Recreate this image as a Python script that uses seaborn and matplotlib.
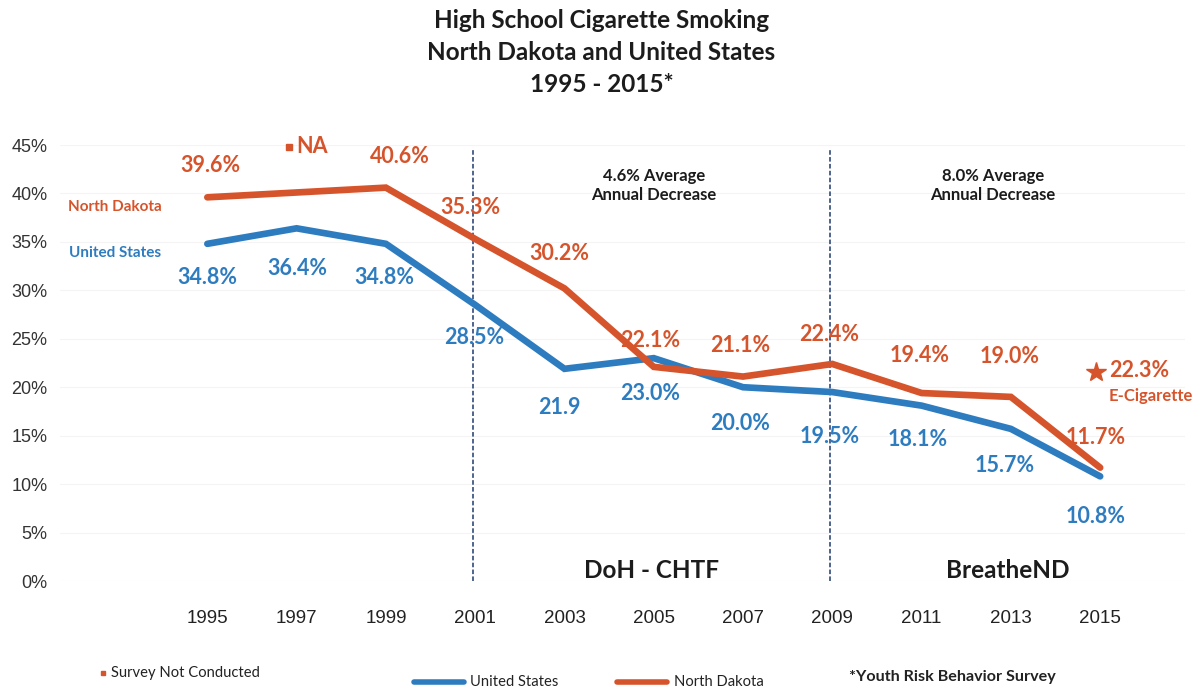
import numpy as np
import pandas as pd
import seaborn as sns
import matplotlib.pyplot as plt
from matplotlib.lines import Line2D

sns.set_theme(style="white")
plt.rcParams['font.family'] = ['Lato', 'DejaVu Sans']

# Survey years and smoking rates (%)
years = [1995, 1997, 1999, 2001, 2003, 2005, 2007, 2009, 2011, 2013, 2015]
us_rates = [34.8, 36.4, 34.8, 28.5, 21.9, 23.0, 20.0, 19.5, 18.1, 15.7, 10.8]
nd_rates = [39.6, np.nan, 40.6, 35.3, 30.2, 22.1, 21.1, 22.4, 19.4, 19.0, 11.7]
ecig_2015 = 22.3
yticks = [0, 5, 10, 15, 20, 25, 30, 35, 40, 45]

# label offsets in pixels (dx, dy) for each value label
nd_offsets = [(3, 32), None, (14, 31), (-5, 31), (-5, 35), (-4, 26), (-3, 31),
              (-3, 29), (-2, 38), (-1, 40), (-5, 30)]
us_offsets = [(0, -34), (1, -40), (-2, -34), (-1, -33), (-5, -39), (-4, -35),
              (-3, -36), (-3, -44), (-4, -34), (-6, -37), (-5, -40)]

ND_COLOR = '#D6542B'
US_COLOR = '#2E7CC0'
DARK = '#1c1c1c'
W, H = 1203, 688

idx = np.arange(len(years))
df = pd.DataFrame({
    'pos': np.concatenate([idx, idx]),
    'rate': us_rates + nd_rates,
    'state': ['United States'] * len(years) + ['North Dakota'] * len(years),
}).dropna()

fig = plt.figure(figsize=(W / 100, H / 100), dpi=100)
ax = fig.add_axes([60 / W, 107 / H, 1125 / W, 436 / H])

sns.lineplot(data=df, x='pos', y='rate', hue='state',
             palette={'United States': US_COLOR, 'North Dakota': ND_COLOR},
             linewidth=4.8, legend=False, ax=ax, sort=True,
             solid_capstyle='round', solid_joinstyle='miter')

ax.set_xlim(-1.65, 10.95)
ax.set_ylim(0, 45)
ax.set_yticks(yticks)
ax.set_yticklabels([f'{t}%' for t in yticks], family='Liberation Sans',
                   fontsize=13, color='#333333')
ax.set_xticks(idx)
ax.set_xticklabels([str(y) for y in years], family='Liberation Sans',
                   fontsize=13.5, color='#222222')
ax.tick_params(axis='y', length=0, pad=9)
ax.tick_params(axis='x', length=0, pad=21)
ax.set_xlabel('')
ax.set_ylabel('')
for s in ax.spines.values():
    s.set_visible(False)
ax.grid(axis='y', color='#f4f4f4', linewidth=0.8)
ax.set_axisbelow(True)

# program period dividers
for x in (3, 7):
    ax.plot([x - 0.03, x - 0.03], [0, 44.7], linestyle=(0, (3, 1.5)),
            color='#1f3b70', linewidth=1.1, zorder=1)

# value labels
for i, (v, off) in enumerate(zip(nd_rates, nd_offsets)):
    if off is None or np.isnan(v):
        continue
    ax.annotate(f'{v:.1f}%', (i, v), xytext=off, textcoords='offset pixels',
                ha='center', va='center', fontsize=15.5, fontweight='bold',
                color=ND_COLOR)
for i, (v, off) in enumerate(zip(us_rates, us_offsets)):
    txt = f'{v:.1f}' if years[i] == 2003 else f'{v:.1f}%'
    ax.annotate(txt, (i, v), xytext=off, textcoords='offset pixels',
                ha='center', va='center', fontsize=15.5, fontweight='bold',
                color=US_COLOR)

# not-conducted marker for 1997
ax.plot([0.92], [44.8], marker='s', markersize=4, color=ND_COLOR, clip_on=False)
ax.text(1.0, 44.8, 'NA', ha='left', va='center', fontsize=15.5,
        fontweight='bold', color=ND_COLOR, clip_on=False)

# e-cigarette rate
ax.plot([9.95], [ecig_2015 - 0.7], marker='*', markersize=15, color=ND_COLOR,
        clip_on=False)
ax.text(10.1, ecig_2015 - 0.6, f'{ecig_2015:.1f}%', ha='left', va='center',
        fontsize=15.5, fontweight='bold', color=ND_COLOR)
ax.text(10.57, ecig_2015 - 3.2, 'E-Cigarette', ha='center', va='center',
        fontsize=12, fontweight='bold', color=ND_COLOR, clip_on=False)

# series names
ax.text(-1.03, 38.6, 'North Dakota', ha='center', va='center', fontsize=11,
        fontweight='bold', color=ND_COLOR)
ax.text(-1.03, 33.9, 'United States', ha='center', va='center', fontsize=11,
        fontweight='bold', color=US_COLOR)

# period annotations
ax.text(5.0, 40.8, '4.6% Average\nAnnual Decrease', ha='center', va='center',
        fontsize=12, fontweight='bold', color=DARK, linespacing=1.2)
ax.text(8.8, 40.8, '8.0% Average\nAnnual Decrease', ha='center', va='center',
        fontsize=12, fontweight='bold', color=DARK, linespacing=1.2)
ax.text(4.97, 1.1, 'DoH - CHTF', ha='center', va='center', fontsize=17.5,
        fontweight='bold', color=DARK)
ax.text(8.96, 1.1, 'BreatheND', ha='center', va='center', fontsize=17.5,
        fontweight='bold', color=DARK)

# title
for text, ypix in [('High School Cigarette Smoking', 20),
                   ('North Dakota and United States', 52),
                   ('1995 - 2015*', 84)]:
    fig.text(0.5, 1 - ypix / H, text, ha='center', va='center',
             fontsize=17.5, fontweight='bold', color=DARK)

# footer legend
fig.add_artist(Line2D([103 / W], [1 - 673 / H], marker='s', markersize=3.5,
                      color=ND_COLOR, linestyle='none'))
fig.text(111 / W, 1 - 673 / H, 'Survey Not Conducted', ha='left',
         va='center', fontsize=10.6, color='#222222')
fig.add_artist(Line2D([414 / W, 464 / W], [1 - 682 / H] * 2,
                      color=US_COLOR, linewidth=4, solid_capstyle='round'))
fig.text(470 / W, 1 - 682 / H, 'United States', ha='left', va='center',
         fontsize=10.6, color='#222222')
fig.add_artist(Line2D([617 / W, 667 / W], [1 - 682 / H] * 2,
                      color=ND_COLOR, linewidth=4, solid_capstyle='round'))
fig.text(674 / W, 1 - 682 / H, 'North Dakota', ha='left', va='center',
         fontsize=10.6, color='#222222')
fig.text(849 / W, 1 - 677 / H, '*Youth Risk Behavior Survey', ha='left',
         va='center', fontsize=11.6, fontweight='bold', color='#222222')

fig.savefig('out.png', dpi=100)
